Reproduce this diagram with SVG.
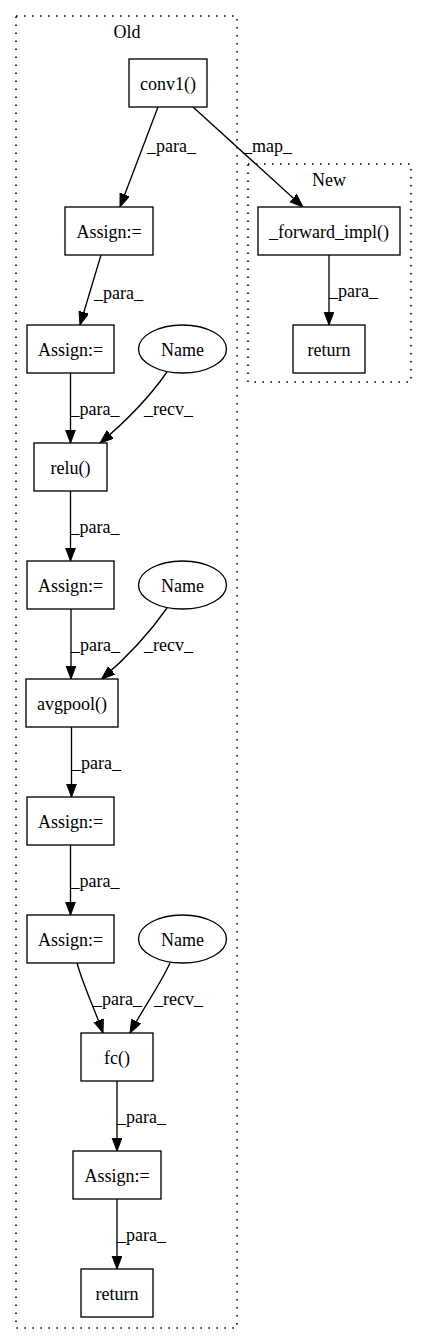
<svg xmlns="http://www.w3.org/2000/svg" width="427" height="1344" viewBox="0 0 427 1344">
<style>
text{font-family:"Liberation Serif","Times New Roman",serif;font-size:18px;fill:#000}
.n{text-anchor:middle}
.box{fill:#fff;stroke:#000;stroke-width:1.33}
.cl{fill:none;stroke:#000;stroke-width:1.6;stroke-dasharray:1.6,6.4}
.e{fill:none;stroke:#000;stroke-width:1.33;marker-end:url(#ah)}
</style>
<defs>
<marker id="ah" markerUnits="userSpaceOnUse" markerWidth="15" markerHeight="12" refX="13.3" refY="5" orient="auto">
<path d="M0,0 L13.3,5 L0,10 z" fill="#000" stroke="#000" stroke-width="1"/>
</marker>
</defs>
<rect width="427" height="1344" fill="#fff"/>
<g id="cluster_old">
<rect class="cl" x="16" y="16" width="221" height="1312"/>
<text class="n" x="127" y="38">Old</text>
</g>
<g id="cluster_new">
<rect class="cl" x="248" y="164" width="163" height="218"/>
<text class="n" x="329" y="186">New</text>
</g>
<g id="edges">
<path class="e" d="M158,107 L120,207"/>
<text x="147" y="152">_para_</text>
<path class="e" d="M193,107 L303,207"/>
<text x="243" y="152">_map_</text>
<path class="e" d="M101,255 L80,325"/>
<text x="94" y="299">_para_</text>
<path class="e" d="M329,255 L329,325"/>
<text x="329" y="297">_para_</text>
<path class="e" d="M70.5,373 L70.5,443"/>
<text x="70.5" y="415">_para_</text>
<path class="e" d="M167,372 C153,392 130,418 100,443"/>
<text x="144" y="415">_recv_</text>
<path class="e" d="M70.5,491 L70.5,561"/>
<text x="70.5" y="533">_para_</text>
<path class="e" d="M71,609 L71,679"/>
<text x="71" y="651">_para_</text>
<path class="e" d="M167,608 C153,628 131,654 101.5,679"/>
<text x="144" y="651">_recv_</text>
<path class="e" d="M71.5,727 L71.5,797"/>
<text x="72" y="769">_para_</text>
<path class="e" d="M70.5,845 L70.5,915"/>
<text x="70.5" y="887">_para_</text>
<path class="e" d="M77,963 C83,985 95,1010 103,1033"/>
<text x="93" y="1005">_para_</text>
<path class="e" d="M170,963 C160,985 142,1010 130,1033"/>
<text x="154" y="1005">_recv_</text>
<path class="e" d="M117,1081 L117,1151"/>
<text x="117" y="1123">_para_</text>
<path class="e" d="M117,1199 L117,1269"/>
<text x="117" y="1241">_para_</text>
</g>
<g id="conv1"><rect class="box" x="129" y="59" width="78" height="48"/><text class="n" x="168" y="89.5">conv1()</text></g>
<g id="assign1"><rect class="box" x="65" y="207" width="88" height="48"/><text class="n" x="109" y="237.5">Assign:=</text></g>
<g id="forward_impl"><rect class="box" x="258" y="207" width="142" height="48"/><text class="n" x="329" y="237.5">_forward_impl()</text></g>
<g id="return_new"><rect class="box" x="293" y="325" width="72" height="48"/><text class="n" x="329" y="355.5">return</text></g>
<g id="assign2"><rect class="box" x="27" y="325" width="87" height="48"/><text class="n" x="70.5" y="355.5">Assign:=</text></g>
<g id="name1"><ellipse class="box" cx="182.5" cy="349" rx="44" ry="24"/><text class="n" x="182.5" y="355.5">Name</text></g>
<g id="relu"><rect class="box" x="34" y="443" width="73" height="48"/><text class="n" x="70.5" y="473.5">relu()</text></g>
<g id="assign3"><rect class="box" x="27" y="561" width="87" height="48"/><text class="n" x="70.5" y="591.5">Assign:=</text></g>
<g id="name2"><ellipse class="box" cx="182.5" cy="585" rx="44" ry="24"/><text class="n" x="182.5" y="591.5">Name</text></g>
<g id="avgpool"><rect class="box" x="26" y="679" width="92" height="48"/><text class="n" x="72" y="709.5">avgpool()</text></g>
<g id="assign4"><rect class="box" x="27" y="797" width="87" height="48"/><text class="n" x="70.5" y="827.5">Assign:=</text></g>
<g id="assign5"><rect class="box" x="27" y="915" width="87" height="48"/><text class="n" x="70.5" y="945.5">Assign:=</text></g>
<g id="name3"><ellipse class="box" cx="182.5" cy="939" rx="44" ry="24"/><text class="n" x="182.5" y="945.5">Name</text></g>
<g id="fc"><rect class="box" x="81" y="1033" width="72" height="48"/><text class="n" x="117" y="1063.5">fc()</text></g>
<g id="assign6"><rect class="box" x="73" y="1151" width="88" height="48"/><text class="n" x="117" y="1181.5">Assign:=</text></g>
<g id="return_old"><rect class="box" x="81" y="1269" width="72" height="48"/><text class="n" x="117" y="1299.5">return</text></g>
</svg>
